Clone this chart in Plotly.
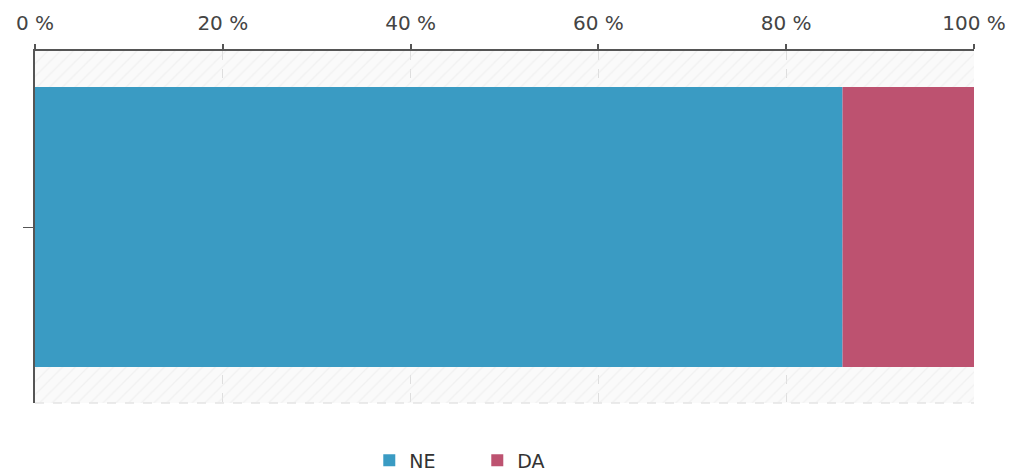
import plotly.graph_objects as go

# Share of answers (percent)
categories = ["NE", "DA"]
shares = [86.0, 14.0]
colors = ["#3a9bc3", "#bd5270"]
tick_values = [0, 20, 40, 60, 80, 100]
tick_labels = ["0 %", "20 %", "40 %", "60 %", "80 %", "100 %"]

fig = go.Figure()

# hatched backdrop band across the whole axis range
fig.add_trace(go.Bar(
    x=[100], y=[0], base=[0], width=[1.0], orientation="h",
    marker=dict(color="rgba(0,0,0,0)", line=dict(width=0),
                pattern=dict(shape="/", fgcolor="#e8e8e8", bgcolor="rgba(0,0,0,0)",
                             size=9, solidity=0.15)),
    showlegend=False, hoverinfo="skip",
))

start = 0.0
for name, val, col in zip(categories, shares, colors):
    fig.add_trace(go.Bar(
        x=[val], y=[0], base=[start], width=[0.795], orientation="h",
        name=name, marker=dict(color=col, line=dict(width=0)),
    ))
    start += val

fig.update_layout(
    width=1011, height=474,
    barmode="overlay",
    margin=dict(l=35, r=37, t=51, b=71, autoexpand=False),
    paper_bgcolor="white",
    plot_bgcolor="#fafafa",
    font=dict(family="DejaVu Sans, Verdana, sans-serif", size=20, color="#444"),
    showlegend=True,
    legend=dict(orientation="h", x=0.356, xanchor="left", y=-0.163, yanchor="middle",
                font=dict(size=19, color="#333"), traceorder="normal",
                entrywidth=63, entrywidthmode="pixels", tracegroupgap=0),
    xaxis=dict(
        side="top", range=[0, 100], tickvals=tick_values, ticktext=tick_labels,
        ticks="outside", ticklen=5, tickcolor="#555", tickwidth=1.5,
        ticklabelstandoff=6,
        showline=True, linecolor="#555", linewidth=1.5,
        showgrid=True, gridcolor="#dedede", griddash="dash", gridwidth=1,
        zeroline=False, fixedrange=True,
    ),
    yaxis=dict(
        range=[-0.5, 0.5], tickvals=[0], showticklabels=False,
        ticks="outside", ticklen=10, tickcolor="#555", tickwidth=1,
        showline=True, linecolor="#555", linewidth=2,
        showgrid=False, zeroline=False, fixedrange=True,
    ),
    shapes=[dict(type="line", xref="paper", yref="paper", x0=0, x1=1, y0=0, y1=0,
                 line=dict(color="#d8d8d8", width=1, dash="dash"), layer="below")],
)

fig.write_html("out.html")
